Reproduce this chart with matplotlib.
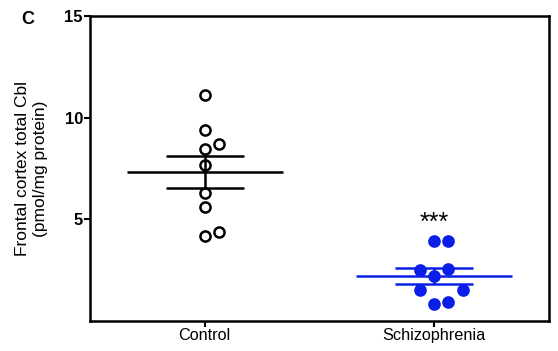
import matplotlib
matplotlib.use("Agg")
import matplotlib.pyplot as plt
import numpy as np

plt.rcParams['font.family'] = ['Liberation Sans', 'DejaVu Sans']

categories = ["Control", "Schizophrenia"]
control_values = [11.13, 9.41, 8.71, 8.48, 7.65, 6.31, 5.60, 4.38, 4.18]
control_slots = [0, 0, 1, 0, 0, 0, 0, 1, 0]
schizo_values = [3.91, 3.91, 2.53, 2.58, 2.19, 1.52, 1.53, 0.83, 0.95]
schizo_slots = [0, 1, -1, 1, 0, -1, 2, 0, 1]
yticks = [5, 10, 15]
significance = "***"

fig = plt.figure(figsize=(5.58, 3.51), dpi=100)
ax = fig.add_axes([0.161, 0.0855, 0.823, 0.869])

step = 0.062
groups = [
    (control_values, control_slots, 'none', 'black'),
    (schizo_values, schizo_slots, '#0a1ee8', '#0a1ee8'),
]
for i, (vals, slots, fc, col) in enumerate(groups):
    vals = np.array(vals)
    xs = i + np.array(slots) * step
    ax.plot(xs, vals, 'o', ms=7.3, mfc=fc, mec=col, mew=1.8, ls='none', zorder=3)
    m = vals.mean()
    sem = vals.std(ddof=1) / np.sqrt(len(vals))
    ax.hlines(m, i - 0.34, i + 0.34, color=col, lw=1.8, zorder=4)
    ax.hlines([m - sem, m + sem], i - 0.17, i + 0.17, color=col, lw=1.8, zorder=4)
    ax.vlines(i, m - sem, m + sem, color=col, lw=1.8, zorder=4)

ax.text(1, 4.85, significance, ha='center', va='center', fontsize=18, color='black')

ax.set_xlim(-0.5, 1.5)
ax.set_ylim(0, 15)
ax.set_yticks(yticks)
ax.set_yticklabels([str(t) for t in yticks], fontweight='bold', fontsize=12)
ax.set_xticks([0, 1])
ax.set_xticklabels(categories, fontsize=11.7)
ax.tick_params(axis='both', length=4, width=1.5, pad=1)
for s in ax.spines.values():
    s.set_linewidth(1.8)

ax.set_ylabel("Frontal cortex total Cbl\n(pmol/mg protein)", fontsize=12.5, labelpad=12)
fig.text(0.05, 0.945, "C", fontsize=13, fontweight='bold', ha='center', va='center')

fig.savefig("out.png", dpi=100)
